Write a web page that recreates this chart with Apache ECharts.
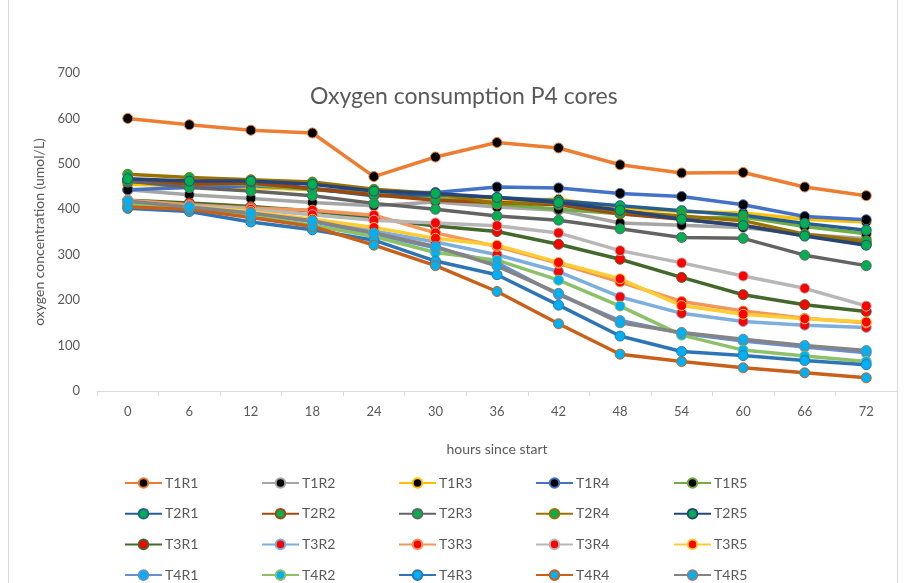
<!DOCTYPE html>
<html><head><meta charset="utf-8">
<script src="https://cdn.jsdelivr.net/npm/echarts@6/dist/echarts.min.js"></script>
<style>html,body{margin:0;padding:0;background:#fff}#c{width:904px;height:583px}</style>
</head><body><div id="c"></div>
<script>
const hours = ['0','6','12','18','24','30','36','42','48','54','60','66','72'];

const T1R1 = [600, 586, 574, 568, 472, 515, 547, 535, 498, 480, 481, 449, 430];
const T1R2 = [443, 432, 424, 415, 408, 416, 405, 398, 370, 365, 360, 345, 335];
const T1R3 = [455, 452, 448, 443, 437, 425, 420, 422, 402, 395, 392, 378, 372];
const T1R4 = [443, 448, 452, 445, 437, 437, 449, 447, 435, 428, 410, 384, 377];
const T1R5 = [460, 458, 455, 443, 435, 425, 412, 400, 390, 380, 383, 362, 346];
const T2R1 = [465, 460, 462, 445, 430, 432, 426, 419, 408, 397, 387, 369, 354];
const T2R2 = [462, 455, 458, 445, 432, 420, 415, 410, 390, 378, 365, 343, 325];
const T2R3 = [462, 448, 440, 430, 413, 400, 385, 376, 357, 338, 336, 299, 276];
const T2R4 = [477, 470, 465, 460, 444, 435, 412, 415, 395, 385, 375, 345, 330];
const T2R5 = [467, 462, 462, 455, 440, 435, 426, 415, 398, 378, 364, 341, 321];
const T3R1 = [420, 414, 406, 396, 380, 363, 351, 323, 290, 250, 212, 190, 175];
const T3R2 = [415, 405, 392, 375, 352, 328, 300, 263, 207, 171, 153, 145, 140];
const T3R3 = [420, 410, 403, 398, 387, 348, 318, 281, 240, 197, 176, 160, 150];
const T3R4 = [410, 408, 400, 388, 376, 370, 364, 348, 309, 282, 253, 226, 187];
const T3R5 = [418, 405, 395, 378, 360, 336, 321, 283, 247, 188, 169, 159, 152];
const T4R1 = [412, 403, 390, 373, 345, 315, 282, 212, 155, 127, 110, 97, 84];
const T4R2 = [410, 400, 385, 365, 340, 305, 288, 244, 187, 123, 90, 77, 65];
const T4R3 = [402, 395, 372, 355, 332, 286, 256, 189, 121, 87, 78, 67, 58];
const T4R4 = [405, 400, 382, 362, 321, 276, 219, 148, 81, 65, 51, 40, 29];
const T4R5 = [418, 405, 392, 375, 348, 318, 275, 215, 150, 129, 114, 100, 89];

const seriesNames = ['T1R1','T1R2','T1R3','T1R4','T1R5','T2R1','T2R2','T2R3','T2R4','T2R5',
  'T3R1','T3R2','T3R3','T3R4','T3R5','T4R1','T4R2','T4R3','T4R4','T4R5'];
const seriesValues = [T1R1,T1R2,T1R3,T1R4,T1R5,T2R1,T2R2,T2R3,T2R4,T2R5,
  T3R1,T3R2,T3R3,T3R4,T3R5,T4R1,T4R2,T4R3,T4R4,T4R5];

const lineColors = ['#ED7D31','#A5A5A5','#FFC000','#4472C4','#70AD47',
  '#255E91','#9E480E','#636363','#997300','#264478',
  '#43682B','#7CAFDD','#F1975A','#B7B7B7','#FFCD33',
  '#698ED0','#8CC168','#2E75B6','#C8601A','#848484'];
const markerColors = ['#000000','#000000','#000000','#000000','#000000',
  '#00B050','#00B050','#00B050','#00B050','#00B050',
  '#FF0000','#FF0000','#FF0000','#FF0000','#FF0000',
  '#00B0F0','#00B0F0','#00B0F0','#00B0F0','#00B0F0'];

const FONT = 'Lato';
const TXT = '#595959';

const series = seriesNames.map((n, i) => ({
  name: n,
  type: 'line',
  data: seriesValues[i],
  symbol: 'circle',
  symbolSize: 10,
  showAllSymbol: true,
  lineStyle: { color: lineColors[i], width: 3.5 },
  itemStyle: { color: markerColors[i], borderColor: lineColors[i], borderWidth: 1 },
  emphasis: { disabled: true },
  animation: false
}));

const colLeft = [124, 261, 398, 535, 673];
const legends = [0,1,2,3,4].map(c => ({
  orient: 'vertical',
  left: colLeft[c],
  top: 476,
  height: 120,
  padding: 0,
  itemWidth: 37,
  itemHeight: 12,
  itemGap: 16.7,
  data: [0,1,2,3].map(r => seriesNames[r*5 + c]),
  textStyle: { color: TXT, fontSize: 14, lineHeight: 12, fontFamily: FONT, padding: [0,0,0,-2] },
  selectedMode: false
}));

const chart = echarts.init(document.getElementById('c'), null, { renderer: 'canvas' });
chart.setOption({
  backgroundColor: '#ffffff',
  animation: false,
  title: {
    text: 'Oxygen consumption P4 cores',
    left: 305,
    top: 80,
    textStyle: { color: TXT, fontSize: 23, fontWeight: 'normal', fontFamily: FONT }
  },
  legend: legends,
  grid: { left: 97, right: 7, top: 73, bottom: 192, containLabel: false },
  xAxis: {
    type: 'category',
    data: hours,
    boundaryGap: true,
    name: 'hours since start',
    nameLocation: 'middle',
    nameGap: 51,
    nameTextStyle: { color: TXT, fontSize: 14, fontFamily: FONT },
    axisLine: { lineStyle: { color: '#D9D9D9', width: 1 } },
    axisTick: { show: true, length: 5, lineStyle: { color: '#D9D9D9' } },
    axisLabel: { color: TXT, fontSize: 13, fontFamily: FONT, margin: 14 },
    splitLine: { show: false }
  },
  yAxis: {
    type: 'value',
    min: 0, max: 700, interval: 100,
    name: 'oxygen concentration (umol/L)',
    nameLocation: 'middle',
    nameGap: 39,
    nameRotate: 90,
    nameTextStyle: { color: TXT, fontSize: 14, fontFamily: FONT },
    axisLine: { show: false },
    axisTick: { show: false },
    axisLabel: { color: TXT, fontSize: 13, fontFamily: FONT, margin: 17 },
    splitLine: { show: false }
  },
  graphic: [{
    type: 'rect',
    shape: { x: 8.5, y: -2, width: 889, height: 600 },
    style: { fill: 'none', stroke: '#D9D9D9', lineWidth: 1 },
    silent: true
  }],
  series: series
});
</script>
</body></html>
